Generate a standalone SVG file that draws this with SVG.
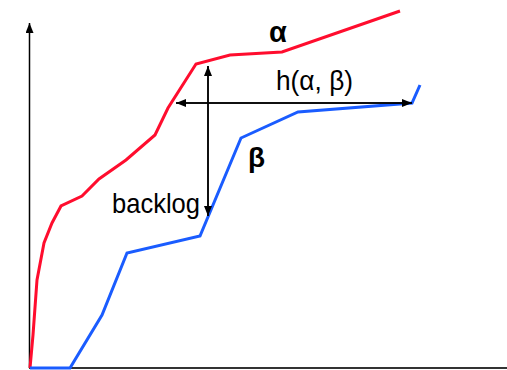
<svg xmlns="http://www.w3.org/2000/svg" width="507" height="370" viewBox="0 0 507 370">
<defs>
<marker id="ah" viewBox="0 0 10 8" refX="10" refY="4" markerWidth="10" markerHeight="8" markerUnits="userSpaceOnUse" orient="auto">
<path d="M0,0 L10,4 L0,8 Z" fill="#000"/>
</marker>
</defs>
<style>
.ax{stroke:#000;stroke-width:1.5;fill:none}
.cur{fill:none;stroke-width:3;stroke-linejoin:miter}
.red{stroke:#ff0d2e}
.blue{stroke:#1a5cff}
.arr{stroke:#000;stroke-width:1.5;fill:none}
text{font-family:"Liberation Sans",Arial,sans-serif;fill:#000}
</style>
<rect width="507" height="370" fill="#fff"/>
<g id="axes">
<line class="ax" x1="29.5" y1="368" x2="29.5" y2="23" marker-end="url(#ah)"/>
<line x1="29" y1="368" x2="507" y2="368" stroke="#333" stroke-width="2"/>
</g>
<g id="alpha-curve">
<polyline class="cur red" points="30,368 33,335 37,280 44,243 52,223 61,206 82,196 99,179 126,160 155,135 168,108 196,64 230,55 282,52 400,11"/>
</g>
<g id="beta-curve">
<polyline class="cur blue" points="30,368 70,368 102,315 127,253 200,236 241,138 298,112 412,103 420,85"/>
</g>
<g id="connectors">
<line class="arr" x1="412" y1="103" x2="176" y2="103" marker-end="url(#ah)"/>
<line class="arr" x1="176" y1="103" x2="412" y2="103" marker-end="url(#ah)"/>
<line class="arr" x1="208" y1="216" x2="208" y2="66" marker-end="url(#ah)"/>
<line class="arr" x1="208" y1="66" x2="208" y2="216" marker-end="url(#ah)"/>
</g>
<g id="labels">
<text x="278" y="42" font-size="29" font-weight="bold" text-anchor="middle">α</text>
<text x="276" y="90" font-size="27" textLength="77" lengthAdjust="spacingAndGlyphs">h(α, β)</text>
<text x="248" y="167" font-size="28" font-weight="bold">β</text>
<text x="112" y="213" font-size="28" textLength="88" lengthAdjust="spacingAndGlyphs">backlog</text>
</g>
</svg>
